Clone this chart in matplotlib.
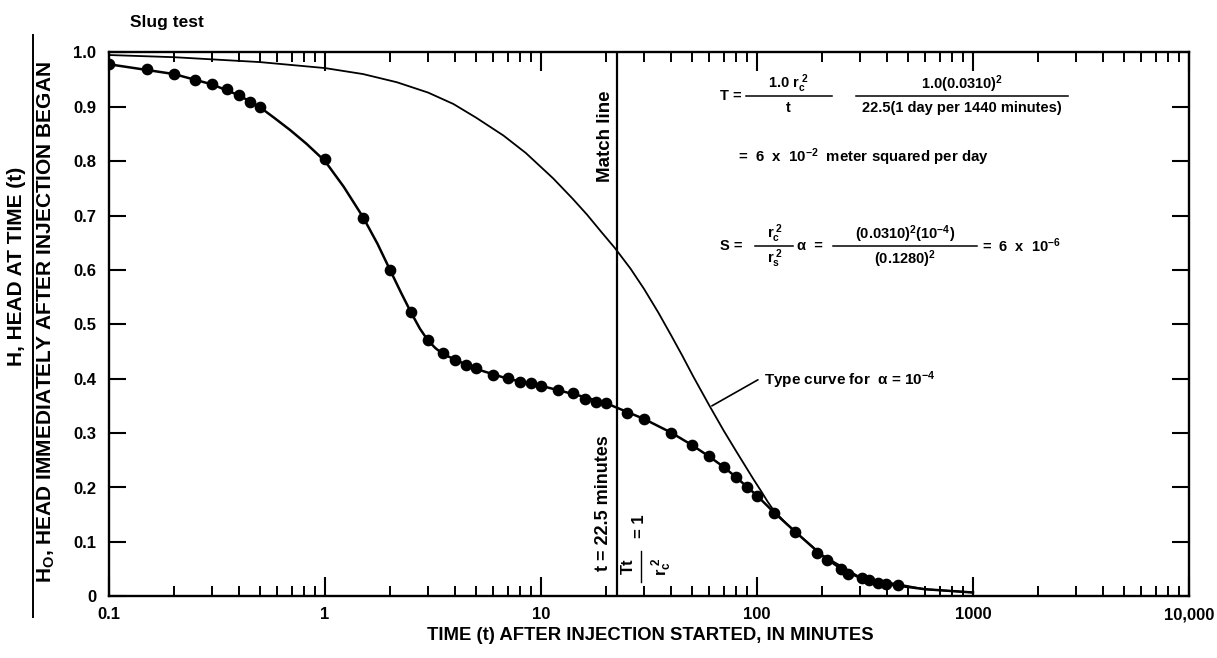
import matplotlib
matplotlib.use("Agg")
import matplotlib.pyplot as plt
from matplotlib.ticker import LogLocator, FixedLocator, FixedFormatter, NullFormatter
from matplotlib.lines import Line2D

plt.rcParams['font.family'] = ['Liberation Sans', 'DejaVu Sans']
plt.rcParams['font.weight'] = 'bold'
plt.rcParams['mathtext.fontset'] = 'custom'
plt.rcParams['mathtext.rm'] = 'Liberation Sans:bold'
plt.rcParams['mathtext.it'] = 'Liberation Sans:bold'
plt.rcParams['mathtext.bf'] = 'Liberation Sans:bold'

# ---------------- data ----------------
obs_t = [0.1, 0.15, 0.2, 0.25, 0.3, 0.35, 0.4, 0.45, 0.5, 1.0, 1.5, 2.0, 2.5, 3.0,
         3.5, 4.0, 4.5, 5, 6, 7, 8, 9, 10, 12, 14, 16, 18, 20, 25, 30, 40, 50, 60,
         70, 80, 90, 100, 120, 150, 190, 210, 245, 265, 305, 330, 365, 395, 450]
obs_h = [0.978, 0.969, 0.960, 0.950, 0.941, 0.933, 0.921, 0.909, 0.899, 0.803,
         0.696, 0.600, 0.522, 0.471, 0.447, 0.435, 0.426, 0.419, 0.407, 0.401,
         0.394, 0.392, 0.387, 0.379, 0.374, 0.363, 0.357, 0.355, 0.337, 0.326,
         0.301, 0.278, 0.257, 0.238, 0.219, 0.201, 0.185, 0.154, 0.119, 0.080,
         0.067, 0.050, 0.041, 0.033, 0.030, 0.025, 0.023, 0.020]

fit_t = [0.1, 0.2, 0.3, 0.4, 0.5, 0.58, 0.69, 0.82, 1.0, 1.22, 1.5, 1.75, 2.0,
         2.25, 2.5, 2.75, 3.0, 3.25, 3.5, 4.0, 5, 7, 10, 15, 20, 25, 30, 40, 50,
         60, 70, 80, 100, 120, 150, 200, 250, 300, 400, 600, 1000]
fit_h = [0.978, 0.960, 0.941, 0.921, 0.899, 0.880, 0.857, 0.832, 0.800, 0.753,
         0.697, 0.648, 0.600, 0.558, 0.522, 0.492, 0.470, 0.456, 0.446, 0.435,
         0.418, 0.400, 0.387, 0.369, 0.355, 0.339, 0.326, 0.301, 0.278, 0.257,
         0.238, 0.219, 0.185, 0.154, 0.119, 0.075, 0.048, 0.034, 0.022, 0.013,
         0.007]

type_t = [0.1, 0.2, 0.5, 1.0, 1.5, 2.15, 3.0, 3.93, 5.0, 6.7, 8.5, 11.4, 14, 16.3,
          19, 22, 26, 30, 35, 40, 45, 50.7, 60.5, 70, 80, 96, 105, 112, 120, 135,
          150, 200, 300, 600, 1000]
type_h = [0.995, 0.991, 0.982, 0.971, 0.960, 0.945, 0.926, 0.905, 0.880, 0.847,
          0.815, 0.768, 0.731, 0.702, 0.670, 0.640, 0.602, 0.565, 0.521, 0.480,
          0.443, 0.404, 0.349, 0.305, 0.267, 0.216, 0.192, 0.174, 0.157, 0.136,
          0.119, 0.076, 0.035, 0.013, 0.007]

match_t = 22.5

x_ticks = [0.1, 1, 10, 100, 1000, 10000]
x_tick_labels = ["0.1", "1", "10", "100", "1000", "10,000"]
y_ticks = [0, 0.1, 0.2, 0.3, 0.4, 0.5, 0.6, 0.7, 0.8, 0.9, 1.0]
y_tick_labels = ["0", "0.1", "0.2", "0.3", "0.4", "0.5", "0.6", "0.7", "0.8", "0.9", "1.0"]

# ---------------- figure ----------------
W, H = 1217, 658
fig = plt.figure(figsize=(W / 100, H / 100), dpi=100)

def fx(x):
    return x / W

def fy(y):
    return 1 - y / H

ax = fig.add_axes([fx(109), fy(596.3), 1080 / W, 544 / H])
ax.set_xscale('log')
ax.set_xlim(0.1, 10000)
ax.set_ylim(0, 1)

for s in ax.spines.values():
    s.set_linewidth(1.7)

ax.xaxis.set_major_locator(FixedLocator(x_ticks))
ax.xaxis.set_major_formatter(FixedFormatter(x_tick_labels))
ax.xaxis.set_minor_locator(LogLocator(base=10, subs=[2, 3, 4, 5, 6, 7, 8, 9], numticks=20))
ax.xaxis.set_minor_formatter(NullFormatter())
ax.yaxis.set_major_locator(FixedLocator(y_ticks))
ax.yaxis.set_major_formatter(FixedFormatter(y_tick_labels))

ax.tick_params(axis='x', which='major', direction='in', length=14, width=1.5,
               top=True, bottom=True, labelsize=12, pad=8)
ax.tick_params(axis='x', which='minor', direction='in', length=7, width=1.4,
               top=True, bottom=True)
ax.tick_params(axis='y', which='major', direction='in', length=12, width=1.5,
               left=True, right=True, labelsize=12, pad=9)

# curves
ax.plot(type_t, type_h, color='black', lw=1.3, zorder=2)
ax.plot(fit_t, fit_h, color='black', lw=1.8, zorder=3)
ax.plot(obs_t, obs_h, 'o', color='black', markersize=7.4, zorder=4)
ax.axvline(match_t, color='black', lw=1.6, zorder=2)

# leader line + label for type curve
ax.annotate('', xy=(61.8, 0.350), xytext=(101, 0.398),
            arrowprops=dict(arrowstyle='-', color='black', lw=1.2,
                            shrinkA=0, shrinkB=0))
ax.text(108, 0.398, 'Type curve for  \u03b1 = 10$^{-4}$', fontsize=11,
        va='center', ha='left')

# ---------------- labels ----------------
fig.text(fx(130), fy(22), 'Slug test', fontsize=12.5, ha='left', va='center')
fig.text(fx(650), fy(636), 'TIME (t) AFTER INJECTION STARTED, IN MINUTES',
         fontsize=13.3, ha='center', va='center')
fig.text(fx(17), fy(266), 'H, HEAD AT TIME (t)', fontsize=15, rotation=90,
         ha='center', va='center')
fig.text(fx(46), fy(322), r'H$_\mathregular{O}$, HEAD IMMEDIATELY AFTER INJECTION BEGAN',
         fontsize=15, rotation=90, ha='center', va='center')
fig.add_artist(Line2D([fx(33), fx(33)], [fy(35), fy(617)], color='black', lw=1.4))

# match line texts
fig.text(fx(605), fy(136), 'Match line', fontsize=13.5, rotation=90, ha='center', va='center')
fig.text(fx(603), fy(503), 't = 22.5 minutes', fontsize=13, rotation=90,
         ha='center', va='center')
fig.text(fx(628), fy(566), 'Tt', fontsize=12, rotation=90, ha='center', va='center')
fig.add_artist(Line2D([fx(641), fx(641)], [fy(551), fy(582)], color='black', lw=1.0))
fig.text(fx(662), fy(567), r'r$_\mathregular{c}^{\ \mathregular{2}}$', fontsize=12,
         rotation=90, ha='center', va='center')
fig.text(fx(640), fy(526), '= 1', fontsize=12, rotation=90, ha='center', va='center')

# formulas
fs = 10.5
def bar(x0, x1, y):
    fig.add_artist(Line2D([fx(x0), fx(x1)], [fy(y), fy(y)], color='black', lw=1.1))

fig.text(fx(720), fy(96), 'T =', fontsize=fs, ha='left', va='center')
fig.text(fx(788), fy(84), r'1.0 r$_\mathregular{c}^{\ \mathregular{2}}$', fontsize=fs, ha='center', va='center')
bar(746, 832, 96)
fig.text(fx(788), fy(108), 't', fontsize=fs, ha='center', va='center')
fig.text(fx(962), fy(84), r'1.0(0.0310)$^\mathregular{2}$', fontsize=fs, ha='center', va='center')
bar(856, 1068, 96)
fig.text(fx(962), fy(108), '22.5(1 day per 1440 minutes)', fontsize=fs, ha='center', va='center')

fig.text(fx(738), fy(157), r'=  6  x  10$^{-2}$  meter squared per day', fontsize=10.8,
         ha='left', va='center')

fig.text(fx(720), fy(246), 'S =', fontsize=fs, ha='left', va='center')
fig.text(fx(775), fy(234), r'r$_\mathregular{c}^{\ \mathregular{2}}$', fontsize=fs, ha='center', va='center')
bar(755, 793, 246)
fig.text(fx(775), fy(259), r'r$_\mathregular{s}^{\ \mathregular{2}}$', fontsize=fs, ha='center', va='center')
fig.text(fx(797), fy(246), '\u03b1  =', fontsize=fs, ha='left', va='center')
fig.text(fx(905), fy(234), r'(0.0310)$^\mathregular{2}$(10$^{-4}$)', fontsize=fs, ha='center', va='center')
bar(833, 977, 246)
fig.text(fx(905), fy(259), r'(0.1280)$^\mathregular{2}$', fontsize=fs, ha='center', va='center')
fig.text(fx(982), fy(246), r'=  6  x  10$^{-6}$', fontsize=fs, ha='left', va='center')

fig.savefig('out.png', dpi=100)
